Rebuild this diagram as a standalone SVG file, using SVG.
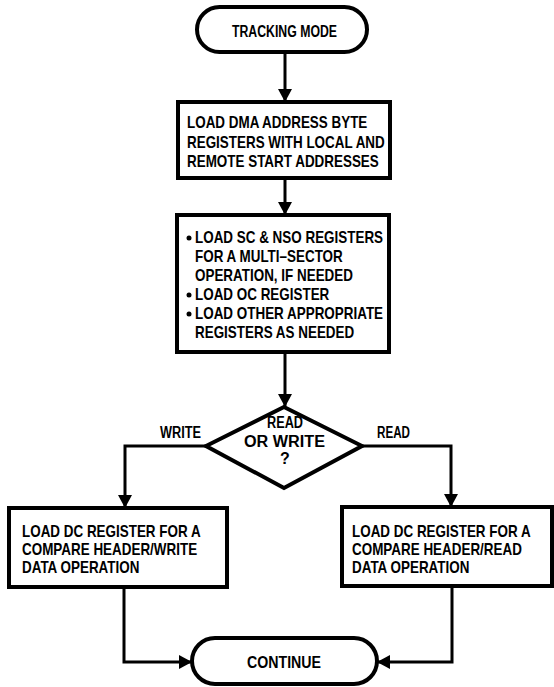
<svg xmlns="http://www.w3.org/2000/svg" width="554" height="687" viewBox="0 0 554 687">
<defs>
<marker id="ah" markerUnits="userSpaceOnUse" markerWidth="16" markerHeight="16" viewBox="0 0 16 16" refX="14" refY="8" orient="auto">
<path d="M2,1 L15,8 L2,15 Z" fill="#000"/>
</marker>
<style>
.box{fill:#fff;stroke:#000;stroke-width:4}
.ln{fill:none;stroke:#000;stroke-width:3}
text{font-family:"Liberation Sans",Arial,sans-serif;font-weight:bold;font-size:16px;fill:#000}
.c{text-anchor:middle}
</style>
</defs>
<rect width="554" height="687" fill="#fff"/>
<g id="connectors">
<line class="ln" x1="285" y1="52" x2="285" y2="101" marker-end="url(#ah)"/>
<line class="ln" x1="285" y1="178" x2="285" y2="214" marker-end="url(#ah)"/>
<line class="ln" x1="285" y1="352" x2="285" y2="406" marker-end="url(#ah)"/>
<polyline class="ln" points="206,446 125,446 125,507" marker-end="url(#ah)"/>
<polyline class="ln" points="362,446 451,446 451,506" marker-end="url(#ah)"/>
<polyline class="ln" points="124,587 124,662 191,662" marker-end="url(#ah)"/>
<polyline class="ln" points="452,586 452,662 378,662" marker-end="url(#ah)"/>
<text x="160" y="438" textLength="41" lengthAdjust="spacingAndGlyphs">WRITE</text>
<text x="377" y="438" textLength="33" lengthAdjust="spacingAndGlyphs">READ</text>
</g>
<g id="start">
<rect class="box" x="197" y="7" width="170" height="45" rx="22.5"/>
<text x="232" y="37" textLength="105" lengthAdjust="spacingAndGlyphs">TRACKING MODE</text>
</g>
<g id="load-dma">
<rect class="box" x="178" y="102" width="212" height="76"/>
<g transform="translate(187,0) scale(0.84,1)">
<text x="0" y="128">LOAD DMA ADDRESS BYTE</text>
<text x="0" y="148">REGISTERS WITH LOCAL AND</text>
<text x="0" y="167">REMOTE START ADDRESSES</text>
</g>
</g>
<g id="load-regs">
<rect class="box" x="177" y="215" width="212" height="137"/>
<circle cx="189" cy="238" r="2.5"/>
<circle cx="189" cy="295" r="2.5"/>
<circle cx="189" cy="314" r="2.5"/>
<g transform="translate(195,0) scale(0.84,1)">
<text x="0" y="243">LOAD SC &amp; NSO REGISTERS</text>
<text x="0" y="262">FOR A MULTI–SECTOR</text>
<text x="0" y="281">OPERATION, IF NEEDED</text>
<text x="0" y="300">LOAD OC REGISTER</text>
<text x="0" y="319">LOAD OTHER APPROPRIATE</text>
<text x="0" y="338">REGISTERS AS NEEDED</text>
</g>
</g>
<g id="decision">
<polygon class="box" points="284,407 362,446 284,488 206,446"/>
<text x="267" y="428" textLength="36" lengthAdjust="spacingAndGlyphs">READ</text>
<text x="244" y="447" textLength="81" lengthAdjust="spacingAndGlyphs">OR WRITE</text>
<text class="c" x="285" y="464">?</text>
</g>
<g id="write-box">
<rect class="box" x="9" y="508" width="218" height="79"/>
<g transform="translate(22,0) scale(0.84,1)">
<text x="0" y="537">LOAD DC REGISTER FOR A</text>
<text x="0" y="555">COMPARE HEADER/WRITE</text>
<text x="0" y="573">DATA OPERATION</text>
</g>
</g>
<g id="read-box">
<rect class="box" x="342" y="507" width="210" height="79"/>
<g transform="translate(352,0) scale(0.84,1)">
<text x="0" y="537">LOAD DC REGISTER FOR A</text>
<text x="0" y="555">COMPARE HEADER/READ</text>
<text x="0" y="573">DATA OPERATION</text>
</g>
</g>
<g id="continue">
<rect class="box" x="192" y="638" width="185" height="46" rx="23"/>
<text x="247" y="668" textLength="74" lengthAdjust="spacingAndGlyphs">CONTINUE</text>
</g>
</svg>
